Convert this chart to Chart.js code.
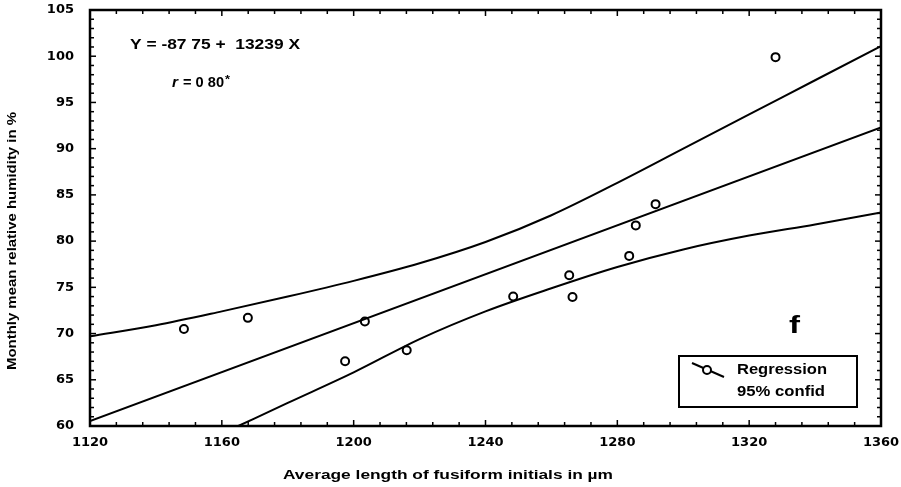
<!DOCTYPE html>
<html>
<head>
<meta charset="utf-8">
<script src="https://cdn.jsdelivr.net/npm/chart.js@4.4.1/dist/chart.umd.min.js"></script>
<style>
  html, body { margin: 0; padding: 0; background: #fff; }
  #chart { display: block; }
</style>
</head>
<body>
<canvas id="chart" width="901" height="487"></canvas>
<script>
// Observed values (fusiform initial length vs. relative humidity)
const obsX = [1148.5, 1167.9, 1197.4, 1203.4, 1216.1, 1248.4, 1265.4, 1266.4, 1283.6, 1285.6, 1291.6, 1328.0];
const obsY = [70.5, 71.7, 67.0, 71.3, 68.2, 74.0, 76.3, 73.95, 78.4, 81.7, 84.0, 99.9];

// Regression line endpoints
const regX = [1120, 1360];
const regY = [60.53, 92.30];

// 95% confidence band
const upperX = [1120, 1140, 1160, 1180, 1200, 1220, 1240, 1260, 1280, 1300, 1320, 1340, 1360];
const upperY = [69.7, 70.9, 72.4, 74.0, 75.7, 77.6, 79.9, 82.8, 86.3, 90.0, 93.7, 97.4, 101.1];
const lowerX = [1165, 1180, 1200, 1220, 1240, 1260, 1280, 1300, 1320, 1340, 1360];
const lowerY = [60.0, 62.5, 65.8, 69.4, 72.4, 74.9, 77.2, 79.1, 80.6, 81.8, 83.1];

// Axis ranges and ticks
const xMin = 1120, xMax = 1360, xStep = 40, xMinorStep = 8;
const yMin = 60, yMax = 105, yStep = 5, yMinorStep = 1;

const SANS = '"Liberation Sans", Arial, sans-serif';
const TICK_FONT = { family: '"DejaVu Sans", sans-serif', size: 13, weight: 'bold' };

function toPoints(xs, ys) {
  return xs.map((x, i) => ({ x: x, y: ys[i] }));
}

function lineSet(xs, ys) {
  return {
    type: 'line',
    data: toPoints(xs, ys),
    borderColor: '#000',
    borderWidth: 2,
    pointRadius: 0,
    fill: false,
    cubicInterpolationMode: 'monotone'
  };
}

// draw text squeezed/stretched horizontally to a given width
function wideText(ctx, text, x, y, font, width) {
  ctx.font = font;
  const w = ctx.measureText(text).width;
  ctx.save();
  ctx.translate(x, y);
  ctx.scale(width / w, 1);
  ctx.fillText(text, 0, 0);
  ctx.restore();
}

// Frame, inward ticks and all annotation text
const framePlugin = {
  id: 'frame',
  afterDraw(chart) {
    const ctx = chart.ctx;
    const a = chart.chartArea;
    const xs = chart.scales.x, ys = chart.scales.y;

    function seg(x1, y1, x2, y2) {
      ctx.beginPath();
      ctx.moveTo(x1, y1);
      ctx.lineTo(x2, y2);
      ctx.stroke();
    }

    ctx.save();
    ctx.strokeStyle = '#000';
    ctx.fillStyle = '#000';

    ctx.lineWidth = 1.5;
    for (let v = xMin; v <= xMax; v += xMinorStep) {
      const px = xs.getPixelForValue(v);
      const len = (v - xMin) % xStep === 0 ? 6 : 4;
      seg(px, a.bottom, px, a.bottom - len);
      seg(px, a.top, px, a.top + len);
    }
    for (let v = yMin; v <= yMax; v += yMinorStep) {
      const py = ys.getPixelForValue(v);
      const len = (v - yMin) % yStep === 0 ? 6 : 4;
      seg(a.left, py, a.left + len, py);
      seg(a.right, py, a.right - len, py);
    }

    ctx.lineWidth = 2.5;
    ctx.strokeRect(a.left, a.top, a.right - a.left, a.bottom - a.top);

    // axis titles
    ctx.textAlign = 'left';
    ctx.textBaseline = 'alphabetic';
    wideText(ctx, 'Average length of fusiform initials in \u00b5m', 283, 479, 'bold 12px ' + SANS, 330);
    ctx.save();
    ctx.translate(16, 370);
    ctx.rotate(-Math.PI / 2);
    wideText(ctx, 'Monthly mean relative humidity in %', 0, 0, 'bold 12px ' + SANS, 258);
    ctx.restore();

    // equation and correlation
    wideText(ctx, 'Y = -87 75 +  13239 X', 130, 49, 'bold 14px ' + SANS, 170);
    wideText(ctx, 'r', 172, 87, 'italic bold 14px ' + SANS, 6);
    wideText(ctx, '= 0 80', 183, 87, 'bold 14px ' + SANS, 41);
    wideText(ctx, '*', 225, 83, 'bold 11px ' + SANS, 5);

    // panel letter
    wideText(ctx, 'f', 789, 333, 'bold 24px ' + SANS, 11);

    // legend box
    ctx.lineWidth = 2;
    ctx.strokeRect(679, 356, 178, 51);
    seg(692, 363, 724, 377);
    ctx.beginPath();
    ctx.arc(707, 370, 4, 0, Math.PI * 2);
    ctx.fillStyle = '#fff';
    ctx.fill();
    ctx.stroke();
    ctx.fillStyle = '#000';
    wideText(ctx, 'Regression', 737, 374, 'bold 14px ' + SANS, 90);
    wideText(ctx, '95% confid', 737, 396, 'bold 14px ' + SANS, 88);

    ctx.restore();
  }
};

new Chart(document.getElementById('chart'), {
  type: 'scatter',
  data: {
    datasets: [
      lineSet(regX, regY),
      lineSet(upperX, upperY),
      lineSet(lowerX, lowerY),
      {
        type: 'scatter',
        data: toPoints(obsX, obsY),
        pointStyle: 'circle',
        pointRadius: 4,
        borderWidth: 2,
        borderColor: '#000',
        backgroundColor: '#fff'
      }
    ]
  },
  options: {
    responsive: false,
    animation: false,
    layout: { padding: { top: 10, right: 20, left: 0, bottom: 0 } },
    plugins: {
      legend: { display: false },
      tooltip: { enabled: false }
    },
    scales: {
      x: {
        type: 'linear',
        min: xMin,
        max: xMax,
        grid: { display: false, drawTicks: false },
        border: { display: false },
        ticks: {
          stepSize: xStep,
          padding: 9,
          color: '#000',
          maxRotation: 0,
          font: TICK_FONT,
          callback: (v) => String(v)
        },
        afterFit(scale) {
          scale.height = 61;
          scale.paddingLeft = 0;
          scale.paddingRight = 0;
        }
      },
      y: {
        min: yMin,
        max: yMax,
        grid: { display: false, drawTicks: false },
        border: { display: false },
        ticks: {
          stepSize: yStep,
          padding: 16,
          color: '#000',
          font: TICK_FONT,
          callback: (v) => String(v)
        },
        afterFit(scale) {
          scale.width = 90;
          scale.paddingTop = 0;
          scale.paddingBottom = 0;
        }
      }
    }
  },
  plugins: [framePlugin]
});
</script>
</body>
</html>
